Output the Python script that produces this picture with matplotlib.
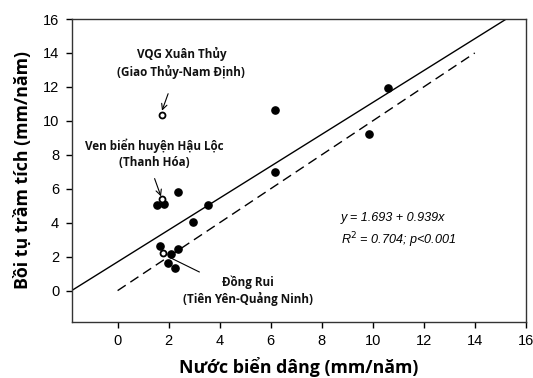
import matplotlib
matplotlib.use("Agg")
import matplotlib.pyplot as plt
import numpy as np

# Data
filled_x = [1.55, 1.80, 2.38, 3.55, 2.96, 1.66, 2.38, 2.09, 1.96, 2.25, 6.17, 6.17, 10.59, 9.87]
filled_y = [5.03, 5.12, 5.83, 5.05, 4.03, 2.65, 2.44, 2.14, 1.65, 1.32, 7.01, 10.64, 11.92, 9.23]
open_x = [1.73, 1.73, 1.76]
open_y = [10.35, 5.37, 2.20]
intercept = 1.693
slope = 0.939
xticks = [0, 2, 4, 6, 8, 10, 12, 14, 16]
yticks = [0, 2, 4, 6, 8, 10, 12, 14, 16]

fig = plt.figure(figsize=(5.33, 3.78), dpi=100)
ax = fig.add_axes([0.1345, 0.149, 0.852, 0.8007])
ax.set_xlim(-1.8, 16)
ax.set_ylim(-1.83, 16)

# regression line
xr = np.array([-1.8, (16 - intercept) / slope])
ax.plot(xr, intercept + slope * xr, color='black', lw=1.0)
# 1:1 line
ax.plot([0, 14], [0, 14], color='black', lw=1.0, ls=(0, (7, 4)))

ax.plot(filled_x, filled_y, 'o', color='black', ms=5.2, zorder=3)
ax.plot(open_x, open_y, 'o', mfc='white', mec='black', mew=1.3, ms=4.3, zorder=4)

tf = dict(family=['Open Sans', 'DejaVu Sans'], fontweight='bold', fontsize=8.4, ha='center', va='center', color='#111111')
ax.text(2.5, 13.4, 'VQG Xuân Thủy\n(Giao Thủy-Nam Định)', linespacing=1.3, **tf)
ax.annotate('', xy=(1.74, 10.6), xytext=(1.98, 11.6),
            arrowprops=dict(arrowstyle='->', color='black', lw=0.8, shrinkA=0, shrinkB=0))
ax.text(1.45, 8.05, 'Ven biển huyện Hậu Lộc\n(Thanh Hóa)', linespacing=1.3, **tf)
ax.annotate('', xy=(1.7, 5.55), xytext=(1.45, 6.6),
            arrowprops=dict(arrowstyle='->', color='black', lw=0.8, shrinkA=0, shrinkB=0))
ax.text(5.1, 0.0, 'Đồng Rui\n(Tiên Yên-Quảng Ninh)', linespacing=1.3, **tf)
ax.plot([2.05, 3.2], [1.95, 1.1], color='black', lw=0.8)

ef = dict(family='Liberation Sans', style='italic', fontsize=9.1, ha='left', va='center')
ax.text(8.75, 4.27, 'y = 1.693 + 0.939x', **ef)
ax.text(8.75, 2.95, r'R$^2$ = 0.704; p<0.001', **ef)

ax.set_xticks(xticks)
ax.set_yticks(yticks)
ax.tick_params(direction='out', length=4, width=1, labelsize=10.5, colors='black', pad=5)
for lab in ax.get_xticklabels() + ax.get_yticklabels():
    lab.set_family('Liberation Sans')
for s in ax.spines.values():
    s.set_linewidth(1.0)
    s.set_color('#333333')

ax.set_xlabel('Nước biển dâng (mm/năm)', family=['Open Sans', 'DejaVu Sans'], fontweight='bold', fontsize=12.8, labelpad=6)
ax.set_ylabel('Bồi tụ trầm tích (mm/năm)', family=['Open Sans', 'DejaVu Sans'], fontweight='bold', fontsize=12.8, labelpad=8)

fig.savefig('out.png', dpi=100)
